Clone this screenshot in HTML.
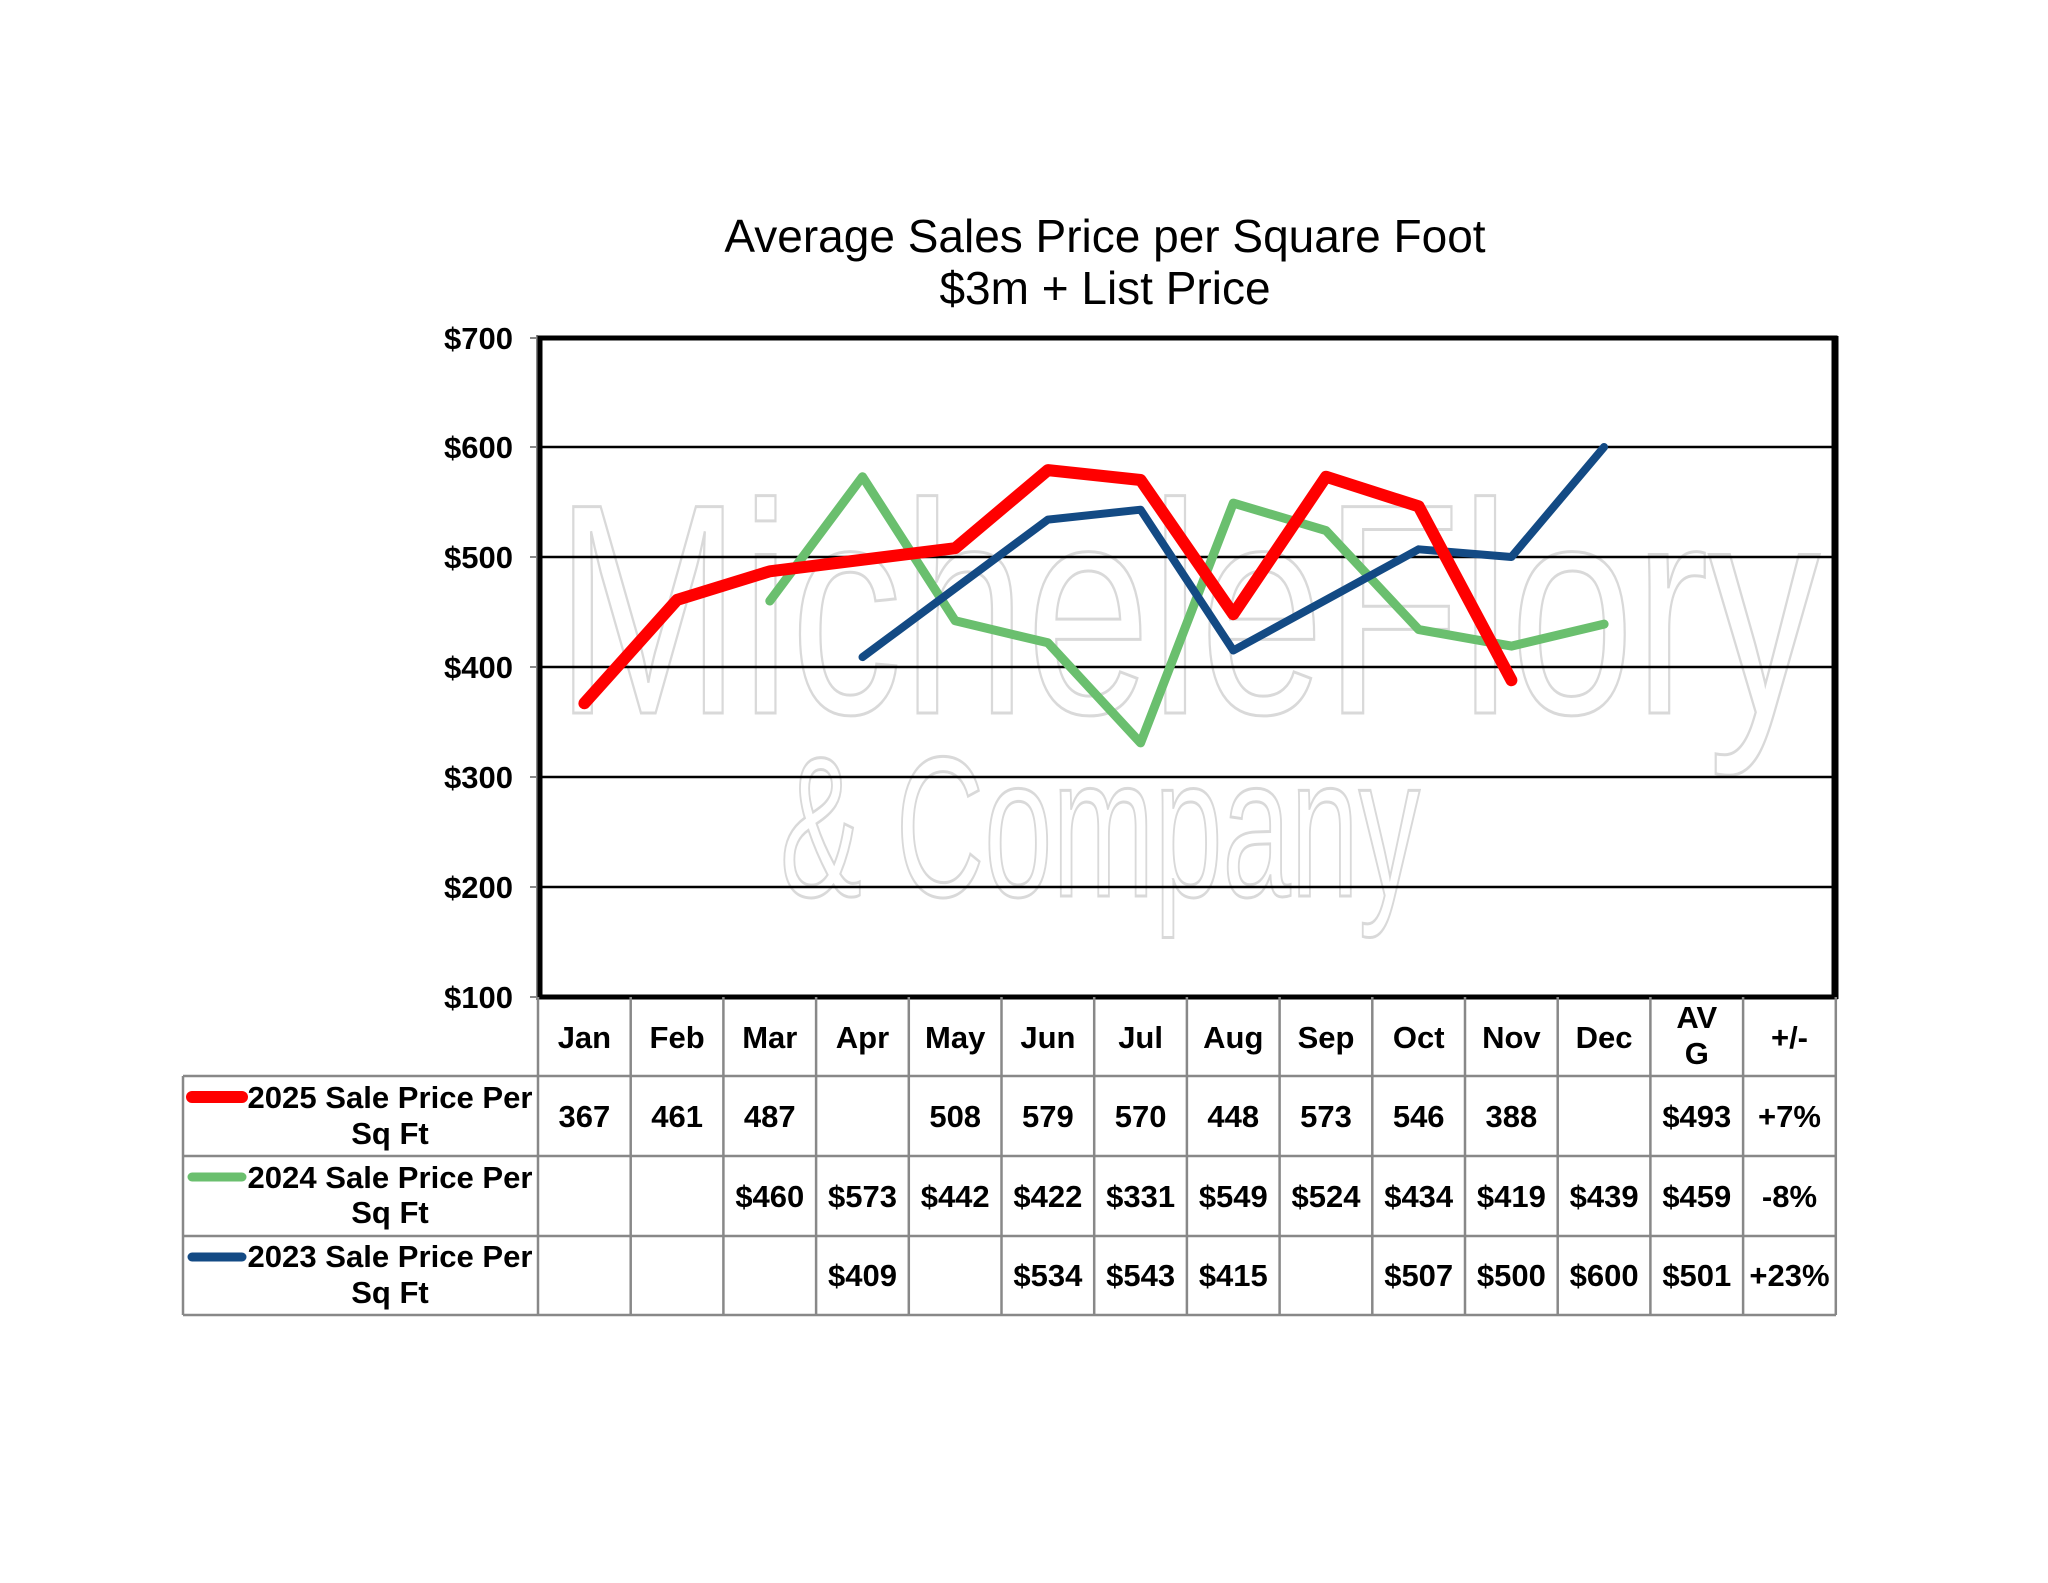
<!DOCTYPE html>
<html><head><meta charset="utf-8"><style>
html,body{margin:0;padding:0;background:#fff;}
svg{display:block;}
text{font-family:"Liberation Sans",Arial,sans-serif;}
</style></head><body>
<svg width="2048" height="1583" viewBox="0 0 2048 1583" xmlns="http://www.w3.org/2000/svg">
<rect width="2048" height="1583" fill="#fff"/>
<!-- watermark -->
<g fill="none" stroke="#d9d9d9" stroke-width="3">
<text x="555" y="713" font-size="300" textLength="1265" lengthAdjust="spacingAndGlyphs">MicheleFlory</text>
<text x="780" y="896" font-size="200" textLength="640" lengthAdjust="spacingAndGlyphs">&amp; Company</text>
</g>
<!-- title -->
<text x="1105" y="252" font-size="46" text-anchor="middle">Average Sales Price per Square Foot</text>
<text x="1105" y="304" font-size="46" text-anchor="middle">$3m + List Price</text>
<!-- gridlines -->
<g stroke="#000" stroke-width="2.5">
<line x1="538" y1="447" x2="1836" y2="447"/>
<line x1="538" y1="557" x2="1836" y2="557"/>
<line x1="538" y1="667" x2="1836" y2="667"/>
<line x1="538" y1="777" x2="1836" y2="777"/>
<line x1="538" y1="887" x2="1836" y2="887"/>
</g>
<g stroke="#888" stroke-width="2">
<line x1="530" y1="338" x2="538" y2="338"/><line x1="530" y1="447" x2="538" y2="447"/>
<line x1="530" y1="557" x2="538" y2="557"/><line x1="530" y1="667" x2="538" y2="667"/>
<line x1="530" y1="777" x2="538" y2="777"/><line x1="530" y1="887" x2="538" y2="887"/>
<line x1="530" y1="997" x2="538" y2="997"/>
<line x1="537" y1="335" x2="537" y2="1000"/>
</g>
<rect x="540" y="338" width="1295" height="659" fill="none" stroke="#000" stroke-width="5"/>
<line x1="1835" y1="336" x2="1835" y2="999" stroke="#000" stroke-width="7"/>
<!-- y labels -->
<g font-size="31" font-weight="bold" text-anchor="end">
<text x="513" y="349">$700</text><text x="513" y="458">$600</text>
<text x="513" y="568">$500</text><text x="513" y="678">$400</text>
<text x="513" y="788">$300</text><text x="513" y="898">$200</text>
<text x="513" y="1008">$100</text>
</g>
<!-- series -->
<g fill="none" stroke-linejoin="round" stroke-linecap="round">
<polyline stroke="#6abf6e" stroke-width="9" points="769.8,601 862.5,476.7 955.2,620.8 1047.9,642.8 1140.6,742.9 1233.3,503.1 1326,530.6 1418.7,629.6 1511.4,646.1 1604.1,624.1"/>
<polyline stroke="#134a84" stroke-width="8" points="862.5,657.1 1047.9,519.6 1140.6,509.7 1233.3,650.5 1418.7,549.3 1511.4,557 1604.1,447"/>
<polyline stroke="#ff0000" stroke-width="12" points="584.4,703.3 677.1,599.9 769.8,571.3 955.2,548.2 1047.9,470.1 1140.6,480 1233.3,614.2 1326,476.7 1418.7,506.4 1511.4,680.2"/>
</g>
<!-- table grid -->
<g stroke="#888" stroke-width="2.5">
<line x1="183" y1="1076" x2="1836" y2="1076"/>
<line x1="183" y1="1156" x2="1836" y2="1156"/>
<line x1="183" y1="1236" x2="1836" y2="1236"/>
<line x1="183" y1="1315" x2="1836" y2="1315"/>
<line x1="183" y1="1076" x2="183" y2="1315"/>
<line x1="538" y1="997" x2="538" y2="1315"/>
<line x1="630.7" y1="997" x2="630.7" y2="1315"/><line x1="723.4" y1="997" x2="723.4" y2="1315"/>
<line x1="816.1" y1="997" x2="816.1" y2="1315"/><line x1="908.8" y1="997" x2="908.8" y2="1315"/>
<line x1="1001.5" y1="997" x2="1001.5" y2="1315"/><line x1="1094.2" y1="997" x2="1094.2" y2="1315"/>
<line x1="1186.9" y1="997" x2="1186.9" y2="1315"/><line x1="1279.6" y1="997" x2="1279.6" y2="1315"/>
<line x1="1372.3" y1="997" x2="1372.3" y2="1315"/><line x1="1465" y1="997" x2="1465" y2="1315"/>
<line x1="1557.7" y1="997" x2="1557.7" y2="1315"/><line x1="1650.4" y1="997" x2="1650.4" y2="1315"/>
<line x1="1743.1" y1="997" x2="1743.1" y2="1315"/><line x1="1835.8" y1="997" x2="1835.8" y2="1315"/>
</g>
<g font-size="31" font-weight="bold" text-anchor="middle">
<text x="584.4" y="1048">Jan</text><text x="677.1" y="1048">Feb</text><text x="769.8" y="1048">Mar</text>
<text x="862.5" y="1048">Apr</text><text x="955.2" y="1048">May</text><text x="1047.9" y="1048">Jun</text>
<text x="1140.6" y="1048">Jul</text><text x="1233.3" y="1048">Aug</text><text x="1326" y="1048">Sep</text>
<text x="1418.7" y="1048">Oct</text><text x="1511.4" y="1048">Nov</text><text x="1604.1" y="1048">Dec</text>
<text x="1696.8" y="1028">AV</text><text x="1696.8" y="1064">G</text><text x="1789.5" y="1048">+/-</text>
<!-- row 1 -->
<text x="584.4" y="1127">367</text><text x="677.1" y="1127">461</text><text x="769.8" y="1127">487</text>
<text x="955.2" y="1127">508</text><text x="1047.9" y="1127">579</text><text x="1140.6" y="1127">570</text>
<text x="1233.3" y="1127">448</text><text x="1326" y="1127">573</text><text x="1418.7" y="1127">546</text>
<text x="1511.4" y="1127">388</text><text x="1696.8" y="1127">$493</text><text x="1789.5" y="1127">+7%</text>
<!-- row 2 -->
<text x="769.8" y="1207">$460</text><text x="862.5" y="1207">$573</text><text x="955.2" y="1207">$442</text>
<text x="1047.9" y="1207">$422</text><text x="1140.6" y="1207">$331</text><text x="1233.3" y="1207">$549</text>
<text x="1326" y="1207">$524</text><text x="1418.7" y="1207">$434</text><text x="1511.4" y="1207">$419</text>
<text x="1604.1" y="1207">$439</text><text x="1696.8" y="1207">$459</text><text x="1789.5" y="1207">-8%</text>
<!-- row 3 -->
<text x="862.5" y="1286">$409</text><text x="1047.9" y="1286">$534</text><text x="1140.6" y="1286">$543</text>
<text x="1233.3" y="1286">$415</text><text x="1418.7" y="1286">$507</text><text x="1511.4" y="1286">$500</text>
<text x="1604.1" y="1286">$600</text><text x="1696.8" y="1286">$501</text><text x="1789.5" y="1286">+23%</text>
<!-- legend labels -->
<text x="390" y="1108" textLength="285" lengthAdjust="spacingAndGlyphs">2025 Sale Price Per</text>
<text x="390" y="1144">Sq Ft</text>
<text x="390" y="1188" textLength="285" lengthAdjust="spacingAndGlyphs">2024 Sale Price Per</text>
<text x="390" y="1223">Sq Ft</text>
<text x="390" y="1267" textLength="285" lengthAdjust="spacingAndGlyphs">2023 Sale Price Per</text>
<text x="390" y="1303">Sq Ft</text>
</g>
<g stroke-linecap="round">
<line x1="192" y1="1097" x2="242" y2="1097" stroke="#ff0000" stroke-width="12"/>
<line x1="192" y1="1177" x2="242" y2="1177" stroke="#6abf6e" stroke-width="9"/>
<line x1="192" y1="1257" x2="242" y2="1257" stroke="#134a84" stroke-width="9"/>
</g>
</svg>
</body></html>
